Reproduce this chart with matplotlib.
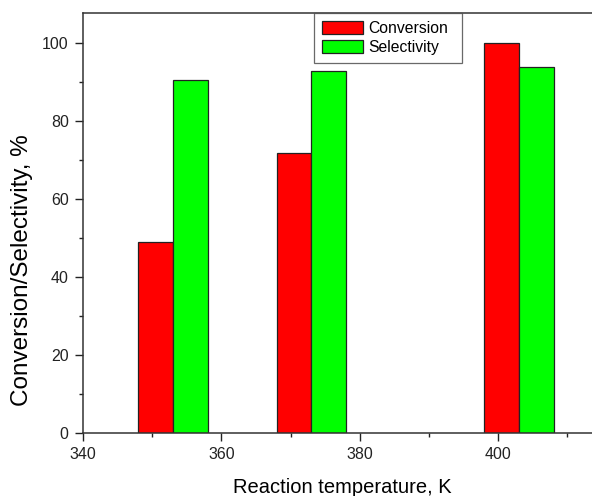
import matplotlib
matplotlib.use("Agg")
import matplotlib.pyplot as plt
from matplotlib.ticker import MultipleLocator

temperatures = [353, 373, 403]
conversion = [49.0, 71.9, 100.0]
selectivity = [90.6, 92.8, 93.9]
series_labels = ["Conversion", "Selectivity"]

plt.rcParams['font.family'] = ['Liberation Sans', 'DejaVu Sans']

fig = plt.figure(figsize=(5.92, 4.96), dpi=100)
ax = fig.add_axes([83/592, 63/496, 519/592, 420/496])

w = 5
ax.bar(temperatures, conversion, width=-w, align='edge', color='#ff0000',
       edgecolor='#222222', linewidth=0.9, label=series_labels[0])
ax.bar(temperatures, selectivity, width=w, align='edge', color='#00ff00',
       edgecolor='#222222', linewidth=0.9, label=series_labels[1])

ax.set_xlim(340, 415)
ax.set_ylim(0, 107.8)
ax.xaxis.set_major_locator(MultipleLocator(20))
ax.xaxis.set_minor_locator(MultipleLocator(10))
ax.yaxis.set_major_locator(MultipleLocator(20))
ax.yaxis.set_minor_locator(MultipleLocator(10))
ax.tick_params(which='major', direction='out', length=5.8, width=1, labelsize=11.5,
               colors='#222222', pad=4.5)
ax.tick_params(which='minor', direction='out', length=3.2, width=1, colors='#222222')
for s in ax.spines.values():
    s.set_linewidth(1.1)
    s.set_color('#333333')

ax.set_xlabel("Reaction temperature, K", fontsize=14.5)
ax.xaxis.set_label_coords((342 - 83) / 519, -(493 - 433) / 420)
ax.xaxis.label.set_va('baseline')
ax.set_ylabel("Conversion/Selectivity, %", fontsize=17.5)
ax.yaxis.set_label_coords(-(83 - 22) / 519, (433 - 270) / 420)
ax.yaxis.label.set_va('center')

x0 = (314 - 83) / 519
wl = (462 - 314) / 519
leg = ax.legend(loc='upper left', bbox_to_anchor=(x0, 0.0, wl, 1.0), mode='expand',
                fontsize=11.3, frameon=True, fancybox=False, edgecolor='#444444',
                borderpad=0.5, handlelength=2.65, handleheight=0.85, labelspacing=0.26,
                handletextpad=0.33, borderaxespad=0)
leg.get_frame().set_linewidth(0.9)

fig.savefig("out.png", dpi=100)
